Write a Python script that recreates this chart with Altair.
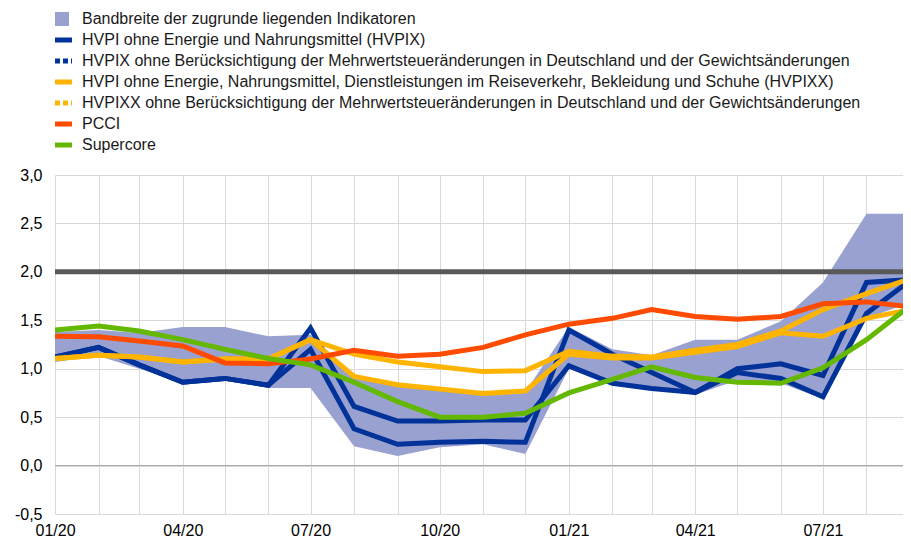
import altair as alt
import pandas as pd

FONT = "Liberation Sans, Arial, sans-serif"

# ---- data -------------------------------------------------------------
months = ["2020-01-01", "2020-02-01", "2020-03-01", "2020-04-01", "2020-05-01",
          "2020-06-01", "2020-07-01", "2020-08-01", "2020-09-01", "2020-10-01",
          "2020-11-01", "2020-12-01", "2021-01-01", "2021-02-01", "2021-03-01",
          "2021-04-01", "2021-05-01", "2021-06-01", "2021-07-01", "2021-08-01",
          "2021-09-01"]

band_low = [1.07, 1.13, 1.00, 0.86, 0.89, 0.80, 0.80, 0.20, 0.10, 0.19, 0.22,
            0.12, 1.00, 0.83, 0.78, 0.73, 0.88, 0.85, 0.69, 1.52, 1.68]
band_high = [1.38, 1.40, 1.37, 1.43, 1.43, 1.335, 1.35, 0.93, 0.84, 0.79, 0.75,
             0.76, 1.43, 1.20, 1.14, 1.30, 1.30, 1.49, 1.89, 2.60, 2.60]

hvpix = [1.12, 1.22, 1.04, 0.86, 0.90, 0.83, 1.20, 0.38, 0.22, 0.24, 0.25,
         0.24, 1.40, 1.15, 0.96, 0.755, 0.96, 0.90, 0.71, 1.57, 1.91]
hvpix_adj = [1.12, 1.22, 1.04, 0.86, 0.90, 0.83, 1.42, 0.61, 0.46, 0.46, 0.47,
             0.47, 1.03, 0.85, 0.795, 0.755, 1.00, 1.05, 0.93, 1.89, 1.92]
hvpixx = [1.105, 1.14, 1.12, 1.07, 1.10, 1.10, 1.30, 0.92, 0.835, 0.79, 0.745,
          0.77, 1.15, 1.11, 1.11, 1.17, 1.23, 1.37, 1.335, 1.52, 1.61]
hvpixx_adj = [1.105, 1.14, 1.12, 1.07, 1.10, 1.10, 1.30, 1.15, 1.07, 1.02, 0.97,
              0.98, 1.18, 1.13, 1.12, 1.19, 1.25, 1.39, 1.61, 1.775, 1.93]
pcci = [1.335, 1.33, 1.285, 1.235, 1.06, 1.05, 1.10, 1.19, 1.13, 1.15, 1.22,
        1.35, 1.46, 1.52, 1.61, 1.54, 1.51, 1.54, 1.67, 1.69, 1.64]
supercore = [1.40, 1.44, 1.39, 1.30, 1.20, 1.105, 1.04, 0.86, 0.66, 0.50, 0.50,
             0.54, 0.75, 0.89, 1.02, 0.91, 0.86, 0.85, 1.01, 1.30, 1.65]

target_line = [2.0]
zero_line = [0.0]

y_ticks = [-0.5, 0.0, 0.5, 1.0, 1.5, 2.0, 2.5, 3.0]

legend_labels = [
    "Bandbreite der zugrunde liegenden Indikatoren",
    "HVPI ohne Energie und Nahrungsmittel (HVPIX)",
    "HVPIX ohne Berücksichtigung der Mehrwertsteueränderungen in Deutschland und der Gewichtsänderungen",
    "HVPI ohne Energie, Nahrungsmittel, Dienstleistungen im Reiseverkehr, Bekleidung und Schuhe (HVPIXX)",
    "HVPIXX ohne Berücksichtigung der Mehrwertsteueränderungen in Deutschland und der Gewichtsänderungen",
    "PCCI",
    "Supercore",
]
legend_colors = ["#98A1D0", "#003299", "#003299", "#FFB400", "#FFB400", "#FF4B00", "#65B800"]
legend_kinds = ["area", "solid", "dashed", "solid", "dashed", "solid", "solid"]

# visible time window (the last month sits just past the right edge, as in the original)
x_start = alt.DateTime(year=2020, month=1, date=1, utc=True)
x_end = alt.DateTime(year=2021, month=8, date=27, utc=True)

# ---- table ------------------------------------------------------------
df = pd.DataFrame({
    "date": months,
    "band_low": band_low,
    "band_high": band_high,
    "hvpix": hvpix,
    "hvpix_adj": hvpix_adj,
    "hvpixx": hvpixx,
    "hvpixx_adj": hvpixx_adj,
    "pcci": pcci,
    "supercore": supercore,
})

tick_dates = [alt.DateTime(year=int(m[:4]), month=int(m[5:7]), date=1, utc=True)
              for m in months[:-1]]

x_enc = alt.X(
    "date:T",
    scale=alt.Scale(type="utc", domain=[x_start, x_end]),
    axis=alt.Axis(
        values=tick_dates,
        labelExpr="utcmonth(datum.value) % 3 == 0 ? utcFormat(datum.value, '%m/%y') : ''",
        grid=True, gridColor="#d9d9d9", gridWidth=1,
        ticks=False, domain=False, title=None,
        labelFontSize=16, labelFont=FONT, labelColor="#000000",
        labelPadding=8, labelFlush=False,
    ),
)

y_scale = alt.Scale(domain=[-0.5, 3.0], nice=False, zero=False)
y_axis = alt.Axis(
    values=y_ticks,
    labelExpr="replace(replace(format(datum.value, '.1f'), '.', ','), '\u2212', '-')",
    grid=True, gridColor="#d9d9d9", gridWidth=1,
    ticks=False, domain=False, title=None,
    labelFontSize=16, labelFont=FONT, labelColor="#000000", labelPadding=13,
)

base = alt.Chart(df)

band = base.mark_area(color="#98A1D0", opacity=1, clip=True).encode(
    x=x_enc,
    y=alt.Y("band_low:Q", scale=y_scale, axis=y_axis),
    y2="band_high:Q",
)

zero_rule = alt.Chart(pd.DataFrame({"v": zero_line})).mark_rule(
    color="#a6a6a6", strokeWidth=1
).encode(y=alt.Y("v:Q", scale=y_scale, axis=y_axis))

target_rule = alt.Chart(pd.DataFrame({"v": target_line})).mark_rule(
    color="#595959", strokeWidth=5
).encode(y=alt.Y("v:Q", scale=y_scale, axis=y_axis))

series = [
    ("hvpix_adj", "#003299"),
    ("hvpix", "#003299"),
    ("hvpixx_adj", "#FFB400"),
    ("hvpixx", "#FFB400"),
    ("pcci", "#FF4B00"),
    ("supercore", "#65B800"),
]

line_layers = []
for col, color in series:
    line_layers.append(
        base.mark_line(color=color, strokeWidth=5, strokeJoin="miter",
                       strokeCap="butt", clip=True).encode(
            x=x_enc,
            y=alt.Y(f"{col}:Q", scale=y_scale, axis=y_axis),
        )
    )

# ---- legend (drawn above the plot area) --------------------------------
legend_layers = []
row0 = -156
row_step = 21
for i, (lab, col, kind) in enumerate(zip(legend_labels, legend_colors, legend_kinds)):
    ly = row0 + row_step * i
    one = alt.Chart(pd.DataFrame({"t": [lab]}))
    if kind == "area":
        sym = one.mark_rect(color=col, opacity=1).encode(
            x=alt.value(0), x2=alt.value(14),
            y=alt.value(ly - 7), y2=alt.value(ly + 7),
        )
    elif kind == "dashed":
        sym = one.mark_rule(color=col, strokeWidth=5, strokeDash=[5, 3],
                            strokeCap="butt").encode(
            x=alt.value(0), x2=alt.value(17), y=alt.value(ly),
        )
    else:
        sym = one.mark_rule(color=col, strokeWidth=5, strokeCap="butt").encode(
            x=alt.value(0), x2=alt.value(17), y=alt.value(ly),
        )
    txt = one.mark_text(align="left", baseline="middle", fontSize=16,
                        font=FONT, color="#1a1a1a").encode(
        x=alt.value(27), y=alt.value(ly), text="t:N",
    )
    legend_layers += [sym, txt]

chart = alt.layer(
    band, zero_rule, target_rule, *line_layers, *legend_layers
).properties(
    width=848,
    height=339,
    padding={"left": 47, "top": 167, "right": 0, "bottom": 24},
    autosize=alt.AutoSizeParams(type="none"),
).configure_view(stroke=None)

chart.save("out.html", embed_options={
    "renderer": "svg",
    "actions": False,
    "defaultStyle": ".vega-embed{display:block;line-height:0}.vega-embed svg{display:block}",
})
